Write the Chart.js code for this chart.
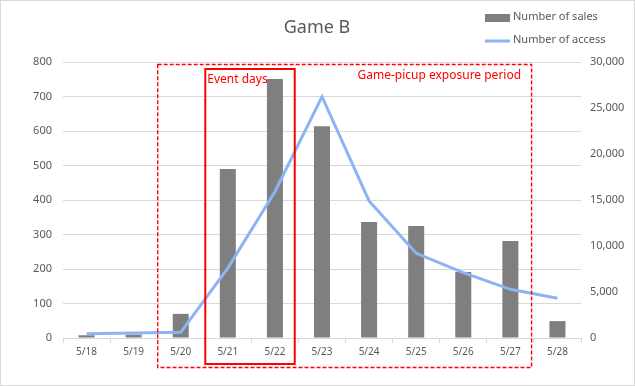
<!DOCTYPE html>
<html lang="en">
  <head>
    <meta charset="UTF-8" />
    <title>Game B</title>
    <script src="https://cdn.jsdelivr.net/npm/chart.js"></script>
    <style>
      html, body { margin: 0; padding: 0; background: #fff; }
      #wrap { width: 635px; height: 386px; position: relative; }
    </style>
  </head>
  <body>
    <div id="wrap"><canvas id="myChart" width="635" height="386"></canvas></div>
    <script>
      // data
      var days = ["5/18", "5/19", "5/20", "5/21", "5/22", "5/23", "5/24", "5/25", "5/26", "5/27", "5/28"];
      var sales = [8, 10, 70, 490, 751, 614, 336, 325, 191, 281, 49];
      var access = [450, 550, 620, 7600, 15900, 26230, 14900, 9200, 7100, 5290, 4310];
      var salesTicks = [0, 100, 200, 300, 400, 500, 600, 700, 800];
      var accessTicks = [0, 5000, 10000, 15000, 20000, 25000, 30000];

      var FONT = "'Noto Sans', sans-serif";
      var TEXT = "#595959";
      var GRID = "#d9d9d9";

      // title, legend, frame and the red boxes
      var decor = {
        id: "decor",
        beforeDraw: function (chart) {
          var c = chart.ctx;
          c.save();
          c.fillStyle = "#fff";
          c.fillRect(0, 0, chart.width, chart.height);
          c.strokeStyle = GRID;
          c.lineWidth = 1;
          c.strokeRect(0.5, 0.5, chart.width - 1, chart.height - 1);
          c.restore();
        },
        afterDraw: function (chart) {
          var c = chart.ctx;
          var x = chart.scales.x;
          var top = chart.chartArea.top;
          c.save();
          // title
          c.fillStyle = TEXT;
          c.font = "18px " + FONT;
          c.textAlign = "center";
          c.textBaseline = "middle";
          c.fillText("Game B", 317, 28);

          // legend
          c.font = "11px " + FONT;
          c.textAlign = "left";
          c.fillStyle = "#7f7f7f";
          c.fillRect(485, 14, 25, 8);
          c.fillStyle = TEXT;
          c.fillText("Number of sales", 513, 17);
          c.strokeStyle = "#8cb4f5";
          c.lineWidth = 3;
          c.beginPath();
          c.moveTo(485, 41);
          c.lineTo(510, 41);
          c.stroke();
          c.fillText("Number of access", 513, 40);

          // exposure period (dashed)
          var dl = x.getPixelForValue(1.5);
          var dr = x.getPixelForValue(9.44);
          c.strokeStyle = "#ff0000";
          c.lineWidth = 1.4;
          c.setLineDash([4, 2]);
          c.strokeRect(dl + 0.5, top + 2.5, dr - dl, 303);
          c.setLineDash([]);
          // event days (solid)
          var el = x.getPixelForValue(2.5);
          var er = x.getPixelForValue(4.4);
          c.lineWidth = 2;
          c.strokeRect(el + 1, top + 7, er - el, 295);

          c.fillStyle = "#ff0000";
          c.font = "12px " + FONT;
          c.textBaseline = "middle";
          c.fillText("Event days", el + 3, top + 18);
          c.textAlign = "right";
          c.fillText("Game-picup exposure period", dr - 10, top + 14);
          c.restore();
        },
      };

      var ctx = document.getElementById("myChart").getContext("2d");
      var myChart = new Chart(ctx, {
        data: {
          labels: days,
          datasets: [
            {
              type: "line",
              label: "Number of access",
              data: access,
              yAxisID: "y1",
              borderColor: "#8cb4f5",
              borderWidth: 3,
              pointRadius: 0,
              tension: 0,
              order: 0,
            },
            {
              type: "bar",
              label: "Number of sales",
              data: sales,
              yAxisID: "y",
              backgroundColor: "#7f7f7f",
              barPercentage: 0.34,
              categoryPercentage: 1,
              order: 1,
            },
          ],
        },
        options: {
          responsive: false,
          animation: false,
          layout: { padding: { top: 62, bottom: 20, left: 0, right: 0 } },
          plugins: {
            legend: { display: false },
            tooltip: { enabled: false },
          },
          scales: {
            x: {
              offset: true,
              grid: { drawOnChartArea: false, drawTicks: true, tickLength: 5, color: GRID, offset: true },
              border: { color: GRID },
              ticks: { color: TEXT, font: { family: FONT, size: 10 }, padding: 3, maxRotation: 0 },
              afterFit: function (s) { s.height = 28; },
            },
            y: {
              position: "left",
              min: 0,
              max: 800,
              afterBuildTicks: function (s) { s.ticks = salesTicks.map(function (v) { return { value: v }; }); },
              grid: { color: GRID, drawTicks: false },
              border: { display: false },
              ticks: { color: TEXT, font: { family: FONT, size: 11 }, padding: 11 },
              afterFit: function (s) { s.width = 63; },
            },
            y1: {
              position: "right",
              min: 0,
              max: 30000,
              afterBuildTicks: function (s) { s.ticks = accessTicks.map(function (v) { return { value: v }; }); },
              grid: { drawOnChartArea: false, drawTicks: false },
              border: { display: false },
              ticks: {
                color: TEXT,
                font: { family: FONT, size: 11 },
                padding: 9,
                callback: function (v) { return v.toLocaleString("en-US"); },
              },
              afterFit: function (s) { s.width = 54; },
            },
          },
        },
        plugins: [decor],
      });
    </script>
  </body>
</html>
